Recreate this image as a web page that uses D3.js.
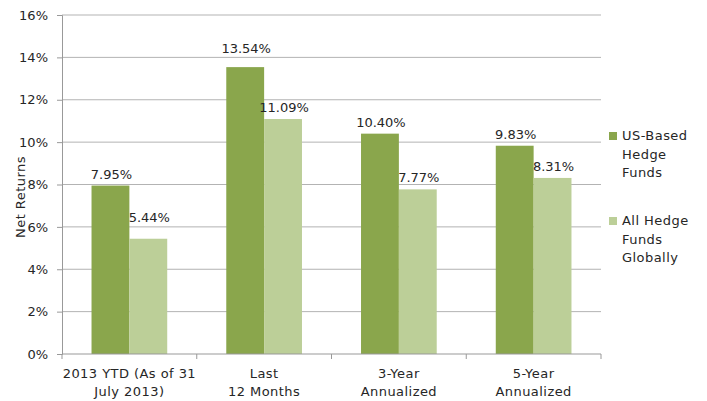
<!DOCTYPE html>
<html>
<head>
<meta charset="utf-8">
<script src="https://cdn.jsdelivr.net/npm/d3@7"></script>
<style>
  body { margin: 0; background: #fff; }
  text { font-family: "DejaVu Sans", sans-serif; fill: #262626; }
  .wide { letter-spacing: 0.45px; }
</style>
</head>
<body>
<div id="chart"></div>
<script>
var categories = [["2013 YTD (As of 31", "July 2013)"], ["Last", "12 Months"], ["3-Year", "Annualized"], ["5-Year", "Annualized"]];
var seriesNames = [["US-Based", "Hedge", "Funds"], ["All Hedge", "Funds", "Globally"]];
var usBased = [7.95, 13.54, 10.40, 9.83];
var allGlobal = [5.44, 11.09, 7.77, 8.31];
var yTicks = [0, 2, 4, 6, 8, 10, 12, 14, 16];
var colors = ["#8aa64c", "#bccf98"];

var width = 707, height = 401;
var margin = { top: 15, right: 106, bottom: 47, left: 62 };
var w = width - margin.left - margin.right;
var h = height - margin.top - margin.bottom;
var fs = "13px";
// a couple of value labels sit higher above their bars in the original
var labelLift = [[0, 10], [7, 0], [0, 0], [0, 0]];

var svg = d3.select("#chart").append("svg")
    .attr("width", width).attr("height", height)
    .append("g")
    .attr("transform", "translate(" + margin.left + "," + margin.top + ")");

var x = d3.scaleBand().domain(d3.range(categories.length)).range([0, w]);
var x1 = d3.scaleBand().domain([0, 1]).range([0, x.bandwidth()]).paddingOuter(0.78).paddingInner(0);
var y = d3.scaleLinear().domain([0, 16]).range([h, 0]);

// gridlines
svg.append("g").selectAll("line").data(yTicks.slice(1)).enter().append("line")
    .attr("x1", 0).attr("x2", w)
    .attr("y1", function (d) { return y(d); }).attr("y2", function (d) { return y(d); })
    .attr("stroke", "#b3b3b3").attr("stroke-width", 1);

// y axis
var yAxis = svg.append("g")
    .call(d3.axisLeft(y).tickValues(yTicks).tickFormat(function (d) { return d + "%"; }).tickSizeOuter(0).tickSize(5).tickPadding(9));
yAxis.select(".domain").attr("stroke", "#999");
yAxis.selectAll(".tick line").attr("stroke", "#999");
yAxis.selectAll("text").style("font-size", fs).style("font-family", "DejaVu Sans").attr("fill", "#262626");

// bars
var groups = svg.append("g").selectAll("g").data(categories).enter().append("g")
    .attr("transform", function (d, i) { return "translate(" + x(i) + ",0)"; });

groups.selectAll("rect").data(function (d, i) { return [usBased[i], allGlobal[i]]; }).enter().append("rect")
    .attr("x", function (d, j) { return x1(j); })
    .attr("y", function (d) { return y(d); })
    .attr("width", x1.bandwidth())
    .attr("height", function (d) { return h - y(d); })
    .attr("fill", function (d, j) { return colors[j]; });

groups.selectAll(".lbl").data(function (d, i) {
        return [{ v: usBased[i], lift: labelLift[i][0] }, { v: allGlobal[i], lift: labelLift[i][1] }];
    }).enter().append("text")
    .attr("class", "lbl")
    .attr("x", function (d, j) { return x1(j) + x1.bandwidth() / 2 + 1; })
    .attr("y", function (d) { return y(d.v) - 7 - d.lift; })
    .attr("text-anchor", "middle")
    .style("font-size", fs)
    .text(function (d) { return d.v.toFixed(2) + "%"; });

// x axis
var xAxis = svg.append("g").attr("transform", "translate(0," + h + ")");
xAxis.append("line").attr("x1", 0).attr("x2", w).attr("stroke", "#999");
xAxis.selectAll(".tk").data(d3.range(categories.length + 1)).enter().append("line")
    .attr("x1", function (d) { return d * x.bandwidth(); })
    .attr("x2", function (d) { return d * x.bandwidth(); })
    .attr("y1", 0).attr("y2", 5).attr("stroke", "#999");
xAxis.selectAll(".cat").data(categories).enter().append("text")
    .attr("class", "wide")
    .attr("text-anchor", "middle")
    .attr("transform", function (d, i) { return "translate(" + (x(i) + x.bandwidth() / 2) + ",0)"; })
    .style("font-size", fs)
    .selectAll("tspan").data(function (d) { return d; }).enter().append("tspan")
    .attr("x", 0)
    .attr("y", function (d, k) { return 24 + k * 18; })
    .text(function (d) { return d; });

// y title
svg.append("text")
    .attr("class", "wide")
    .attr("transform", "rotate(-90)")
    .attr("x", -182).attr("y", -37)
    .attr("text-anchor", "middle")
    .style("font-size", fs)
    .text("Net Returns");

// legend
var legend = svg.append("g").attr("transform", "translate(" + (w + 8) + ",0)");
var lg = legend.selectAll("g").data(seriesNames).enter().append("g")
    .attr("transform", function (d, i) { return "translate(0," + (117 + i * 85) + ")"; });
lg.append("rect").attr("x", 0).attr("y", 0).attr("width", 8).attr("height", 8)
    .attr("fill", function (d, i) { return colors[i]; });
lg.append("text").attr("class", "wide").style("font-size", fs)
    .selectAll("tspan").data(function (d) { return d; }).enter().append("tspan")
    .attr("x", 13).attr("y", function (d, k) { return 8 + k * 18.5; })
    .text(function (d) { return d; });
</script>
</body>
</html>
